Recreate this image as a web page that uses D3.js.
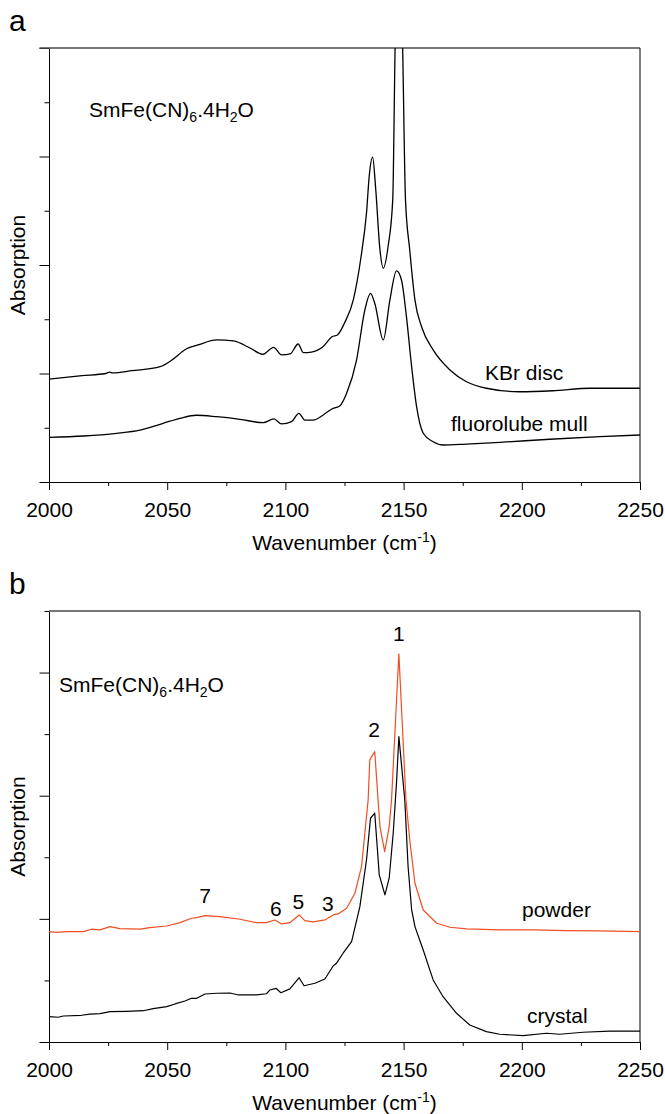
<!DOCTYPE html>
<html>
<head>
<meta charset="utf-8">
<script src="https://cdn.jsdelivr.net/npm/d3@7"></script>
<style>
  html, body { margin: 0; padding: 0; background: #fff; }
  svg { display: block; }
  text { font-family: "Liberation Sans", Arial, Helvetica, sans-serif; fill: #000; }
</style>
</head>
<body>
<svg id="chart" width="665" height="1114"></svg>
<script>
// ---- Data -------------------------------------------------------------
// Wavenumber axis
const xMajorTicks = [2000, 2050, 2100, 2150, 2200, 2250];
const xMinorTicks = [2025, 2075, 2125, 2175, 2225];

// Panel a: KBr disc spectrum (wavenumber, absorption)
const kbrWavenumber = [2000, 2014, 2024, 2025.5, 2027, 2035, 2047, 2052, 2058, 2063, 2071, 2078, 2085,
  2090.5, 2095, 2098.4, 2102, 2105.4, 2107.6, 2111, 2116, 2119.7, 2122, 2125, 2128.7, 2132, 2134.3,
  2135.5, 2136.9, 2138.2, 2140, 2141.4, 2143.5, 2145.4, 2146.4, 2148, 2149.6, 2150.8, 2152.6,
  2154.8, 2157.6, 2162.5, 2169.6, 2176.6, 2185, 2199, 2213, 2229, 2250];
const kbrAbsorption = [0.949, 0.980, 1.000, 1.012, 1.005, 1.026, 1.063, 1.124, 1.226, 1.263, 1.309, 1.300, 1.235,
  1.177, 1.241, 1.171, 1.180, 1.272, 1.192, 1.198, 1.249, 1.339, 1.355, 1.465, 1.677, 2.076, 2.479,
  2.830, 2.995, 2.700, 2.140, 1.970, 2.180, 2.600, 4.000, 5.400, 4.000, 2.600, 2.138,
  1.677, 1.431, 1.217, 1.032, 0.924, 0.864, 0.832, 0.841, 0.864, 0.864];

// Panel a: fluorolube mull spectrum
const mullWavenumber = [2000, 2014.7, 2028.6, 2038.5, 2048.3, 2055.4, 2062.4, 2070.9, 2080.8, 2090.6,
  2095.1, 2098.4, 2102.6, 2105.7, 2108.2, 2111.8, 2116, 2119.7, 2121.6, 2123, 2125.9, 2130.1, 2133.6,
  2136, 2137.8, 2141.4, 2144.2, 2147, 2149.1, 2151.2, 2153.4, 2155.5, 2158.3, 2162.5, 2166.7,
  2176.6, 2190.7, 2211.8, 2233, 2250];
const mullAbsorption = [0.412, 0.424, 0.449, 0.479, 0.541, 0.587, 0.615, 0.602, 0.578, 0.547,
  0.581, 0.535, 0.556, 0.633, 0.571, 0.571, 0.618, 0.673, 0.688, 0.700, 0.818, 1.124, 1.585,
  1.739, 1.647, 1.309, 1.677, 1.945, 1.862, 1.524, 1.063, 0.694, 0.449, 0.371, 0.341,
  0.350, 0.366, 0.394, 0.418, 0.433];

// Panel b: powder spectrum
const powderWavenumber = [2000, 2003.2, 2007.5, 2014.5, 2018, 2021.6, 2025.8, 2030, 2038.5, 2042.7,
  2049.8, 2055.4, 2060.3, 2062.5, 2066, 2072.3, 2080.8, 2087.8, 2092, 2095.6, 2098.4, 2101.9,
  2105.8, 2108.2, 2111.8, 2116.7, 2120.2, 2122.3, 2125.9, 2129.4, 2132.2, 2133.6, 2135, 2135.7,
  2137.8, 2139.2, 2140, 2142, 2143.9, 2144.9, 2148, 2151, 2152.6, 2154.8, 2158.3, 2164, 2169.6,
  2176.6, 2190.7, 2204.8, 2218.9, 2233, 2250];
const powderAbsorption = [0.896, 0.891, 0.896, 0.896, 0.916, 0.910, 0.937, 0.920, 0.916, 0.929,
  0.942, 0.969, 1.005, 1.010, 1.026, 1.018, 0.997, 0.969, 0.969, 0.991, 0.959, 0.969,
  1.032, 0.985, 0.975, 0.991, 1.032, 1.040, 1.086, 1.208, 1.424, 1.695, 1.966, 2.291,
  2.358, 1.966, 1.749, 1.546, 1.749, 1.966, 3.152, 1.966, 1.641, 1.289, 1.072, 0.964, 0.932,
  0.918, 0.910, 0.910, 0.904, 0.902, 0.896];

// Panel b: crystal spectrum
const crystalWavenumber = [2000, 2003.9, 2006, 2013.8, 2017.3, 2021.6, 2025.8, 2032.9, 2039.9, 2044.1,
  2049.8, 2053.3, 2057.5, 2060.3, 2062.5, 2066, 2071, 2076.6, 2080.1, 2087.8, 2092, 2093.4, 2096,
  2098.1, 2101.9, 2105.8, 2107.9, 2112.5, 2116.7, 2120.2, 2121.6, 2124.4, 2128, 2131.5, 2134.3,
  2136, 2137.8, 2139.7, 2142.1, 2143.9, 2145.6, 2147, 2148, 2150.5, 2151.9, 2153.4,
  2154.8, 2158.3, 2162.5, 2166.7, 2172.4, 2178, 2185, 2190.7, 2200.6, 2210.4, 2216, 2225.9,
  2237.2, 2250];
const crystalAbsorption = [0.206, 0.201, 0.211, 0.217, 0.227, 0.230, 0.246, 0.249, 0.254, 0.271,
  0.287, 0.309, 0.333, 0.355, 0.355, 0.390, 0.396, 0.398, 0.382, 0.382, 0.392, 0.422, 0.436,
  0.400, 0.431, 0.522, 0.457, 0.477, 0.512, 0.617, 0.639, 0.721, 0.815, 1.099, 1.478,
  1.817, 1.858, 1.357, 1.195, 1.330, 1.695, 2.104, 2.480, 1.966, 1.424, 1.072,
  0.937, 0.747, 0.504, 0.368, 0.233, 0.138, 0.084, 0.063, 0.051, 0.071, 0.063, 0.079,
  0.089, 0.089];

// Peak numbering on panel b
const peakLabels = ["1", "2", "3", "5", "6", "7"];

// ---- Layout -------------------------------------------------------------
const svg = d3.select("#chart");
const left = 49, right = 640;
const FONT = 21;
const RED = "#f04e23";

const x = d3.scaleLinear().domain([2000, 2250]).range([left, right]);

function panel(opts) {
  const { top, bottom, yMax, letter, letterY, clipId } = opts;
  const y = d3.scaleLinear().domain([0, yMax]).range([bottom, top]);
  const g = svg.append("g");

  // Clip area for the spectra
  svg.append("defs").append("clipPath").attr("id", clipId)
    .append("rect").attr("x", left).attr("y", top)
    .attr("width", right - left).attr("height", bottom - top);

  // y axis: major and minor ticks, no labels
  const yMajor = d3.range(0, yMax + 0.001, 1);
  const yMinor = d3.range(0.5, yMax + 0.001, 1);
  g.append("g").attr("transform", `translate(${left},0)`)
    .call(d3.axisLeft(y).tickValues(yMajor).tickSize(9.5).tickSizeOuter(0).tickFormat(""))
    .call(a => a.selectAll("line").attr("stroke", "#000"))
    .call(a => a.select(".domain").attr("stroke", "#000"));
  g.append("g").attr("transform", `translate(${left},0)`)
    .call(d3.axisLeft(y).tickValues(yMinor).tickSize(4.5).tickSizeOuter(0).tickFormat(""))
    .call(a => a.select(".domain").remove())
    .call(a => a.selectAll("line").attr("stroke", "#000"));

  // x axis: labelled majors and short minors
  g.append("g").attr("transform", `translate(0,${bottom})`)
    .call(d3.axisBottom(x).tickValues(xMajorTicks).tickSize(8).tickSizeOuter(0)
      .tickPadding(12).tickFormat(d3.format("d")))
    .call(a => a.selectAll("line").attr("stroke", "#000"))
    .call(a => a.select(".domain").attr("stroke", "#000"))
    .call(a => a.selectAll("text").attr("font-size", FONT)
      .attr("font-family", '"Liberation Sans", Arial, sans-serif').attr("fill", "#000"));
  g.append("g").attr("transform", `translate(0,${bottom})`)
    .call(d3.axisBottom(x).tickValues(xMinorTicks).tickSize(4).tickSizeOuter(0).tickFormat(""))
    .call(a => a.select(".domain").remove())
    .call(a => a.selectAll("line").attr("stroke", "#000"));

  // Frame: top and right edges
  const topStart = (yMax % 1 === 0) ? left - 9.5 : left;
  g.append("line").attr("x1", topStart).attr("x2", right).attr("y1", top).attr("y2", top)
    .attr("stroke", "#4a4a4a").attr("stroke-width", 1.4);
  g.append("line").attr("x1", right).attr("x2", right).attr("y1", top).attr("y2", bottom)
    .attr("stroke", "#000").attr("stroke-width", 1);

  // Axis titles
  const xt = g.append("text").attr("x", (left + right) / 2).attr("y", bottom + 68)
    .attr("text-anchor", "middle").attr("font-size", FONT);
  xt.append("tspan").text("Wavenumber (cm");
  xt.append("tspan").attr("font-size", 14).attr("dy", -8).text("-1");
  xt.append("tspan").attr("dy", 8).text(")");

  g.append("text")
    .attr("transform", `translate(25,${(top + bottom) / 2}) rotate(-90)`)
    .attr("text-anchor", "middle").attr("font-size", FONT).text("Absorption");

  // Panel letter
  g.append("text").attr("x", 9).attr("y", letterY).attr("font-size", 30).text(letter);

  return { y, g, clipId };
}

function formula(g, px, py) {
  const t = g.append("text").attr("x", px).attr("y", py).attr("font-size", FONT);
  t.append("tspan").text("SmFe(CN)");
  t.append("tspan").attr("font-size", 14).attr("dy", 5).text("6");
  t.append("tspan").attr("dy", -5).text(".4H");
  t.append("tspan").attr("font-size", 14).attr("dy", 5).text("2");
  t.append("tspan").attr("dy", -5).text("O");
}

function drawSeries(p, xs, ys, color, curve, width) {
  const pts = xs.map((w, i) => [w, ys[i]]);
  const line = d3.line().x(d => x(d[0])).y(d => p.y(d[1])).curve(curve);
  p.g.append("path").datum(pts)
    .attr("clip-path", `url(#${p.clipId})`)
    .attr("d", line).attr("fill", "none")
    .attr("stroke", color).attr("stroke-width", width)
    .attr("stroke-linejoin", "round");
}

// ---- Panel a ---------------------------------------------------------
const pa = panel({ top: 48, bottom: 482, yMax: 4, letter: "a", letterY: 31, clipId: "clipA" });
drawSeries(pa, kbrWavenumber, kbrAbsorption, "#000", d3.curveMonotoneX, 1.3);
drawSeries(pa, mullWavenumber, mullAbsorption, "#000", d3.curveMonotoneX, 1.3);
formula(pa.g, 89, 117);
pa.g.append("text").attr("x", 485).attr("y", 380).attr("font-size", FONT).text("KBr disc");
pa.g.append("text").attr("x", 451).attr("y", 431).attr("font-size", FONT).text("fluorolube mull");

// ---- Panel b ---------------------------------------------------------
const pb = panel({ top: 611, bottom: 1042, yMax: 3.5, letter: "b", letterY: 594, clipId: "clipB" });
drawSeries(pb, crystalWavenumber, crystalAbsorption, "#000", d3.curveLinear, 1.2);
drawSeries(pb, powderWavenumber, powderAbsorption, RED, d3.curveLinear, 1.2);
formula(pb.g, 59, 692);
pb.g.append("text").attr("x", 522).attr("y", 917).attr("font-size", FONT).text("powder");
pb.g.append("text").attr("x", 527).attr("y", 1023).attr("font-size", FONT).text("crystal");

// Peak numbers placed above their bands (wavenumber, label baseline absorption)
const peakWavenumber = [2148, 2137.5, 2118, 2105.5, 2096, 2066];
const peakLabelLevel = [3.26, 2.48, 1.06, 1.08, 1.02, 1.13];
pb.g.selectAll("text.peak").data(peakLabels).join("text")
  .attr("class", "peak")
  .attr("x", (d, i) => x(peakWavenumber[i]))
  .attr("y", (d, i) => pb.y(peakLabelLevel[i]))
  .attr("text-anchor", "middle").attr("font-size", FONT)
  .text(d => d);
</script>
</body>
</html>
